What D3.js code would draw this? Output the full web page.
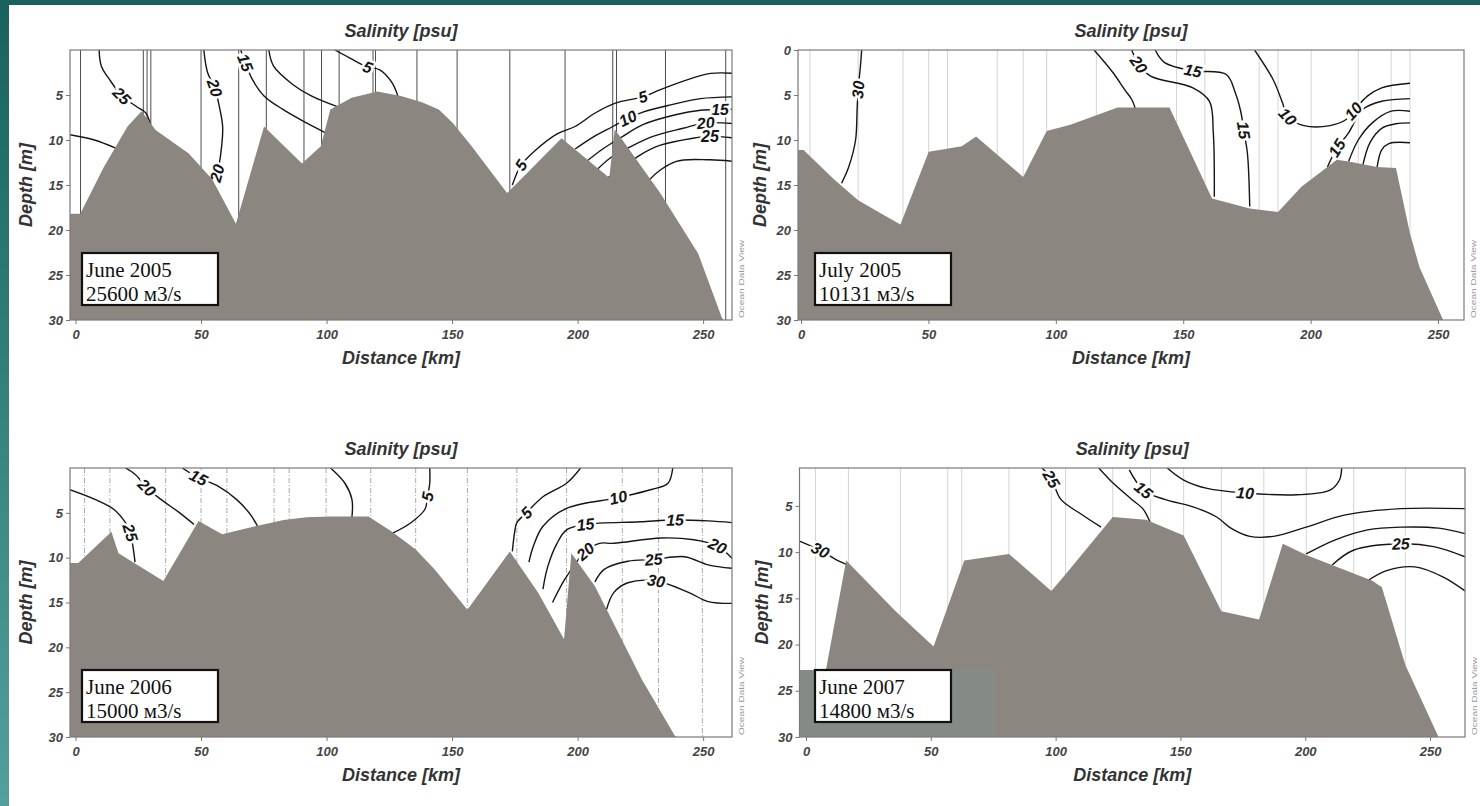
<!DOCTYPE html>
<html>
<head>
<meta charset="utf-8">
<script src="https://cdn.jsdelivr.net/npm/d3@7"></script>
<style>
  body { margin: 0; background: #fff; }
  svg { display: block; }
</style>
</head>
<body>
<div id="chart"></div>
<script>
const width = 1480, height = 806;

// axis ticks
const depthTicksFull = [0, 5, 10, 15, 20, 25, 30];
const depthTicks = [5, 10, 15, 20, 25, 30];
const distTicks = [0, 50, 100, 150, 200, 250];

// captions in the boxes
const captions = [
  ["June 2005", "25600 м3/s"],
  ["July 2005", "10131 м3/s"],
  ["June 2006", "15000 м3/s"],
  ["June 2007", "14800 м3/s"]
];

// bottom profiles [distance km, depth m]
const bathy1 = [[-2.3,18.2],[1.9,18.2],[11.3,13.0],[20.7,8.5],[26.3,6.8],[31.9,8.9],[45.1,11.5],[54.5,14.4],[63.9,19.3],
  [75.1,8.5],[90.2,12.6],[97.7,10.7],[101.5,6.6],[110,5.3],[120.2,4.6],[129.6,5.1],[138,5.8],[144.7,6.6],[150.3,8.1],
  [157.8,10.7],[171.9,15.9],[193.6,9.8],[212.6,14.2],[214.8,8.8],[232.9,15.9],[248,22.6],[257.4,29.7],[258,30]];
const bathy2 = [[-1.4,11.1],[1,11.1],[13,14.4],[22.4,16.7],[31.6,18.2],[39,19.4],[50.1,11.3],[63.1,10.7],[68.7,9.6],
  [87.2,14.1],[96.4,9.0],[105.7,8.3],[124.2,6.4],[144.6,6.4],[161.3,16.5],[176.1,17.6],[187.2,18],[196.4,15.2],
  [210.3,12.2],[214.9,12.4],[226.1,13],[233.5,13.1],[239,20.4],[242.7,24.1],[252,30]];
const bathy3 = [[-2.3,10.6],[1.1,10.6],[14.3,7.1],[17.1,9.5],[35,12.6],[49,5.9],[58.4,7.4],[71.6,6.5],[82.9,5.8],
  [92,5.5],[101.6,5.4],[116.7,5.4],[126.1,7.1],[135.5,9.1],[143,11.3],[156.1,15.8],[173,9.3],[184.3,13.9],
  [194.6,19.1],[197.5,9.5],[206.9,13.2],[225.6,23.6],[238.8,29.9],[239.5,30]];
const bathy4 = [[-2.7,30],[3,30],[16.1,10.9],[35.9,16.4],[51.1,20.2],[63.4,10.9],[81.3,10.2],[98.3,14.2],[104,12.4],
  [122.9,6.2],[136.2,6.5],[151.3,8.2],[166.4,16.4],[181.5,17.3],[191,9.1],[200.4,10.3],[226.9,13.1],[230.7,13.8],
  [240.1,22.2],[253.4,30]];

// station positions (km)
const stations1 = [2, 27, 28.5, 30, 50, 65, 76, 91, 98, 105, 118.5, 119.5, 136, 152, 173, 195, 214, 215.5, 235, 259];
const stations2 = [3.5, 22.4, 40, 50.1, 57.5, 77, 87.2, 96.4, 115.9, 147.4, 158.5, 179.8, 187.2, 200.2, 218.7, 231.6, 239];
const stations3 = [3.6, 13.7, 35.9, 50, 60.3, 79.1, 85.1, 99.8, 117.6, 135.5, 156.1, 175.8, 195.6, 217.8, 232.2, 249.7];
const stations4 = [3.8, 17, 37.8, 56.8, 62.4, 81.3, 98.3, 104, 122.9, 138, 151.3, 166.4, 183.4, 200.4, 219.4, 240.1];

// salinity isolines: label text, points [km, depth], label point indexes
const contours1 = [
  {v: "25", pts: [[9.4,0],[10.3,1.8],[14.1,3.5],[18.4,5.1],[24.4,6.3],[28,7],[30.4,8.9]], at: [3]},
  {v: "", pts: [[-2.5,9.4],[7.5,10],[16,10.9]], at: []},
  {v: "20", pts: [[51.1,0],[52.6,2.5],[55.4,4.2],[57.3,6.3],[58.6,8.5],[58.2,10.7],[56.4,13.7],[54.5,14.6]], at: [2, 6]},
  {v: "15", pts: [[65.8,0],[67.6,1.4],[70.5,3.3],[75.1,5.1],[82.6,6.6],[92,8.1],[99.6,9.2]], at: [1]},
  {v: "", pts: [[77,0],[78.9,1.8],[86.4,3.8],[93.9,5.1],[104.3,6.3]], at: []},
  {v: "5", pts: [[103.3,0],[109.3,0.9],[116.4,1.9],[121.2,2.2],[126,3.6],[128.4,5.1]], at: [2]},
  {v: "5", pts: [[174,15],[177.5,12.8],[183,11.2],[192,9.3],[199,8.5],[207,7],[215,5.9],[226,5.2],[233,4.4],[246,3.1],[253,2.6],[263,2.6]], at: [1, 7]},
  {v: "10", pts: [[199,11],[206,9.7],[214,8.5],[220,7.6],[226,6.9],[237,6.1],[249,5.4],[263,5.2]], at: [3]},
  {v: "15", pts: [[203,12.5],[210,11],[218,9.6],[226,8.3],[239,7.2],[249,6.7],[256.7,6.6],[263,6.6]], at: [6]},
  {v: "20", pts: [[207,13.5],[213,12],[220,10.9],[230,9.6],[242,8.7],[251,8.1],[263,8.2]], at: [5]},
  {v: "25", pts: [[210,14.5],[216,13.5],[224.7,11.7],[232.7,10.6],[246,9.8],[252.7,9.6],[263,9.8]], at: [5]},
  {v: "", pts: [[226,15.8],[228.7,14.4],[239,12.4],[252.7,12.2],[263,12.4]], at: []}
];
const contours2 = [
  {v: "30", pts: [[23.8,0],[23.3,1.8],[22.4,4.4],[22,6.6],[21.4,10],[18.7,13],[15.9,14.8]], at: [2]},
  {v: "", pts: [[115,0],[122.4,2.5],[127,4.4],[129.8,5.5],[131.3,6.6]], at: []},
  {v: "20", pts: [[129.8,0],[132.5,1.6],[137.2,2.9],[153.8,4.2],[160.3,5.7],[161.8,9.2],[162.2,16.3]], at: [1]},
  {v: "15", pts: [[139,0],[142.7,1.4],[153.8,2.3],[166.8,2.7],[170.5,4.8],[172.7,7],[173.7,8.9],[175.2,11.5],[176.1,17.4]], at: [2, 6]},
  {v: "10", pts: [[178,0],[185.3,3.3],[189,5.9],[190.9,7.4],[197.4,8.4],[207.6,8.4],[214.1,7.7],[216.8,6.8],[222.4,5.1],[227.9,4.2],[239,3.7]], at: [3, 7]},
  {v: "15", pts: [[206.6,13],[210.3,10.9],[214.9,9.2],[220.5,6.6],[227.9,5.7],[239,5.4]], at: [1]},
  {v: "", pts: [[214.9,12.4],[218.7,10],[224.2,8.1],[231.6,6.8],[239,6.8]], at: []},
  {v: "", pts: [[220.5,12.8],[223.3,10.3],[227.9,8.7],[233.5,8.2],[239,8.1]], at: []},
  {v: "", pts: [[226.1,13],[227.9,11.1],[230.7,10.4],[239,10.3]], at: []}
];
const contours3 = [
  {v: "25", pts: [[-2.5,2.4],[7.7,3.5],[15.2,4.6],[19.9,6.1],[21.8,7.2],[23,9],[23.7,10.5]], at: [4]},
  {v: "20", pts: [[19.9,0],[23.7,0.7],[28.4,2.2],[34,3.5],[41.5,5],[47.2,6.3]], at: [2]},
  {v: "15", pts: [[42.5,0],[49,1.1],[56.6,2],[64.1,3.5],[69.7,5.2],[72.5,6.5]], at: [1]},
  {v: "", pts: [[101.6,0],[107.3,1.7],[110.1,3.5],[110.1,5.5]], at: []},
  {v: "5", pts: [[141.1,0],[141.1,1.7],[140.2,3.2],[139.2,4.6],[133.6,6.1],[126.1,7.3]], at: [2]},
  {v: "5", pts: [[201.2,0],[195.6,1.7],[186.2,3.2],[179.6,5],[175.8,6.1],[174.9,7.2],[174,9.3]], at: [3]},
  {v: "10", pts: [[237.9,0],[236,1.7],[229.4,2.4],[216.2,3.3],[195.6,4.5],[186.2,6.5],[182.4,8.7],[180.6,10.5]], at: [3]},
  {v: "15", pts: [[262,6.1],[252,5.9],[238.8,5.8],[225,6],[203.1,6.3],[195.6,6.9],[191.8,8.4],[188.1,11],[186.2,13.5]], at: [2, 4]},
  {v: "20", pts: [[262,10.2],[255.7,8.7],[246.3,8],[233.2,7.8],[214.4,8.4],[208.7,8.4],[203.1,9.3],[199.3,10.6],[194.5,12.6],[190,15]], at: [1, 6]},
  {v: "25", pts: [[262,11.2],[252,10.8],[242.6,9.9],[230.3,10.2],[220,10.4],[210.6,11.3],[206.9,12.7]], at: [3]},
  {v: "30", pts: [[262,15.1],[252,14.9],[244.4,13.9],[231.3,12.6],[220,12.8],[214.4,13.9],[211.5,15.8]], at: [3]}
];
const contours4 = [
  {v: "30", pts: [[-2.6,8.8],[5.7,9.8],[12,10.8],[17,11.4]], at: [1]},
  {v: "25", pts: [[94.6,0.9],[98.3,2.1],[102.1,4.3],[109.7,5.8],[118.2,7.3]], at: [1]},
  {v: "", pts: [[117.3,0.9],[122.9,2.5],[130.5,4.3],[135.2,5.4],[138,6.9]], at: []},
  {v: "15", pts: [[129.5,1.1],[135.2,3.3],[143.7,4.3],[155.1,5.1],[164.5,6.2],[170.2,7.4],[177.8,8.3],[187.2,8.3],[200.4,7.3],[215.6,6],[238.3,5.3],[264,5.3]], at: [1]},
  {v: "10", pts: [[144.7,0.9],[151.3,2.2],[160.7,3.1],[175.9,3.6],[196.7,3.8],[209.9,3.3],[213.7,2.2],[214.6,0.9]], at: [3]},
  {v: "", pts: [[200.4,10.2],[211.8,8.7],[225,7.6],[238.3,7.3],[253.4,7.4],[264,8]], at: []},
  {v: "25", pts: [[210.8,11.4],[219.3,9.8],[238.3,9.1],[251.5,9.4],[264,10.5]], at: [2]},
  {v: "", pts: [[225,13.1],[232.6,12],[243.9,11.6],[255.3,12.7],[264,14.2]], at: []}
];

const svg = d3.select("#chart").append("svg")
  .attr("width", width).attr("height", height)
  .attr("viewBox", `0 0 ${width} ${height}`);

// teal slide border
const defs = svg.append("defs");
const grad = defs.append("linearGradient").attr("id", "edge")
  .attr("x1", 0).attr("y1", 0).attr("x2", 0).attr("y2", 1);
grad.append("stop").attr("offset", "0%").attr("stop-color", "#17625f");
grad.append("stop").attr("offset", "100%").attr("stop-color", "#52a09d");
svg.append("rect").attr("x", 0).attr("y", 0).attr("width", width).attr("height", height).attr("fill", "#fff");
svg.append("rect").attr("x", 0).attr("y", 0).attr("width", width).attr("height", 5).attr("fill", "#17625f");
svg.append("rect").attr("x", 0).attr("y", 0).attr("width", 9).attr("height", height).attr("fill", "url(#edge)");

const panels = [
  {id: 1, bathy: bathy1, stations: stations1, contours: contours1, caption: captions[0], yTicks: depthTicks,
   left: 70, right: 732, top: 50, bottom: 320, xDom: [-2.2, 261.5], yDom: [0, 30],
   gridColor: "#4d4d4d", gridDash: null, boxX: 82, depthOff: 44},
  {id: 2, bathy: bathy2, stations: stations2, contours: contours2, caption: captions[1], yTicks: depthTicksFull,
   left: 798, right: 1464, top: 50, bottom: 320, xDom: [-1.2, 260.2], yDom: [0, 30],
   gridColor: "#d4d4d4", gridDash: null, boxX: 815, depthOff: 38},
  {id: 3, bathy: bathy3, stations: stations3, contours: contours3, caption: captions[2], yTicks: depthTicks,
   left: 70, right: 732, top: 468, bottom: 737, xDom: [-2.2, 261.5], yDom: [0, 30],
   gridColor: "#ababab", gridDash: "5,2,1,2", boxX: 82, depthOff: 44},
  {id: 4, bathy: bathy4, stations: stations4, contours: contours4, caption: captions[3], yTicks: depthTicks,
   left: 799.5, right: 1465, top: 468, bottom: 737, xDom: [-2.6, 264], yDom: [0.9, 30],
   gridColor: "#d4d4d4", gridDash: null, boxX: 815, depthOff: 38}
];

const boldItalic = "'Liberation Sans', Arial, sans-serif";

panels.forEach(p => {
  const x = d3.scaleLinear().domain(p.xDom).range([p.left, p.right]);
  const y = d3.scaleLinear().domain(p.yDom).range([p.top, p.bottom]);
  const g = svg.append("g").attr("class", "panel" + p.id);

  defs.append("clipPath").attr("id", "clip" + p.id)
    .append("rect").attr("x", p.left).attr("y", p.top)
    .attr("width", p.right - p.left).attr("height", p.bottom - p.top);

  const plot = g.append("g").attr("clip-path", `url(#clip${p.id})`);

  // station lines
  plot.selectAll("line.station").data(p.stations).enter().append("line")
    .attr("class", "station")
    .attr("x1", d => x(d)).attr("x2", d => x(d))
    .attr("y1", p.top).attr("y2", p.bottom)
    .attr("stroke", p.gridColor).attr("stroke-width", 1)
    .attr("stroke-dasharray", p.gridDash);

  // isolines
  const line = d3.line().x(d => x(d[0])).y(d => y(d[1])).curve(d3.curveCatmullRom.alpha(0.5));
  plot.selectAll("path.iso").data(p.contours).enter().append("path")
    .attr("class", "iso")
    .attr("d", d => line(d.pts))
    .attr("fill", "none").attr("stroke", "#151515").attr("stroke-width", 1.4);

  // isoline labels, rotated along the line
  const labels = [];
  p.contours.forEach(c => c.at.forEach(i => {
    const a = c.pts[Math.max(i - 1, 0)], b = c.pts[Math.min(i + 1, c.pts.length - 1)];
    let ang = Math.atan2(y(b[1]) - y(a[1]), x(b[0]) - x(a[0])) * 180 / Math.PI;
    if (ang > 90) ang -= 180;
    if (ang < -90) ang += 180;
    labels.push({v: c.v, px: x(c.pts[i][0]), py: y(c.pts[i][1]), ang: ang});
  }));
  plot.selectAll("text.isolabel").data(labels).enter().append("text")
    .attr("class", "isolabel")
    .attr("transform", d => `translate(${d.px},${d.py}) rotate(${d.ang})`)
    .attr("text-anchor", "middle").attr("dy", "0.35em")
    .style("font-family", boldItalic).style("font-size", "16px")
    .style("font-weight", "bold").style("font-style", "italic")
    .attr("fill", "#151515")
    .attr("stroke", "#fff").attr("stroke-width", 5).attr("paint-order", "stroke")
    .text(d => d.v);

  // sea bottom
  const area = d3.area().x(d => x(d[0])).y0(y(p.yDom[1]) + 1).y1(d => y(d[1]));
  plot.append("path").datum(p.bathy)
    .attr("d", area).attr("fill", "#8c8680");

  // tinted patch seen behind the June 2007 box
  if (p.id === 4) {
    plot.append("rect").attr("x", p.left).attr("y", p.bottom - 67)
      .attr("width", 196).attr("height", 67)
      .attr("fill", "#848b86");
  }

  // frame
  g.append("rect").attr("x", p.left).attr("y", p.top)
    .attr("width", p.right - p.left).attr("height", p.bottom - p.top)
    .attr("fill", "none").attr("stroke", "#7a7a7a").attr("stroke-width", 1.2);

  // axes
  const yAxis = g.append("g").attr("transform", `translate(${p.left},0)`)
    .call(d3.axisLeft(y).tickValues(p.yTicks).tickSize(4).tickPadding(3));
  const xAxis = g.append("g").attr("transform", `translate(0,${p.bottom})`)
    .call(d3.axisBottom(x).tickValues(distTicks).tickSize(4).tickPadding(6));
  [yAxis, xAxis].forEach(ax => {
    ax.select(".domain").remove();
    ax.selectAll(".tick line").attr("stroke", "#777");
    ax.selectAll(".tick text")
      .style("font-family", boldItalic).style("font-size", "13px")
      .style("font-weight", "bold").style("font-style", "italic")
      .attr("fill", "#444");
  });

  const cx = (p.left + p.right) / 2;
  g.append("text").attr("x", cx).attr("y", p.top - 13)
    .attr("text-anchor", "middle")
    .style("font-family", boldItalic).style("font-size", "18px")
    .style("font-weight", "bold").style("font-style", "italic")
    .attr("fill", "#333").text("Salinity [psu]");

  g.append("text").attr("x", cx).attr("y", p.bottom + 44)
    .attr("text-anchor", "middle")
    .style("font-family", boldItalic).style("font-size", "18px")
    .style("font-weight", "bold").style("font-style", "italic")
    .attr("fill", "#333").text("Distance [km]");

  g.append("text")
    .attr("transform", `translate(${p.left - p.depthOff + 6},${(p.top + p.bottom) / 2}) rotate(-90)`)
    .attr("text-anchor", "middle")
    .style("font-family", boldItalic).style("font-size", "18px")
    .style("font-weight", "bold").style("font-style", "italic")
    .attr("fill", "#333").text("Depth [m]");

  g.append("text")
    .attr("transform", `translate(${p.right + 12},${p.bottom - 2}) rotate(-90)`)
    .attr("text-anchor", "start")
    .attr("textLength", 78).attr("lengthAdjust", "spacingAndGlyphs")
    .style("font-family", boldItalic).style("font-size", "7px")
    .attr("fill", "#999").text("Ocean Data View");

  // caption box
  const box = g.append("g").attr("transform", `translate(${p.boxX},${p.bottom - 67})`);
  box.append("rect").attr("x", 0).attr("y", 0).attr("width", 136).attr("height", 52)
    .attr("fill", "#fff").attr("stroke", "#111").attr("stroke-width", 2.2);
  box.selectAll("text").data(p.caption).enter().append("text")
    .attr("x", 4).attr("y", (d, i) => 24 + i * 24)
    .style("font-family", "'Liberation Serif', 'Times New Roman', serif")
    .style("font-size", "21px").attr("fill", "#111")
    .text(d => d);
});
</script>
</body>
</html>
